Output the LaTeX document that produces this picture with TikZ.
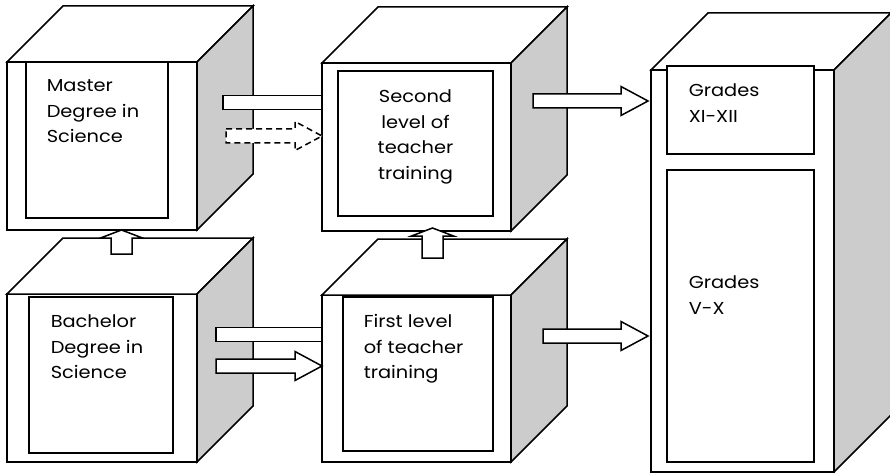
\documentclass[tikz,border=0pt]{standalone}
\usepackage{fontspec}
\setmainfont{Poppins}[FakeStretch=1.12]
\usetikzlibrary{calc,positioning}
\definecolor{sidegray}{rgb}{0.8,0.8,0.8}
\tikzset{
  front/.style={draw,fill=white,inner sep=0pt,outer sep=0pt,anchor=north west},
  inbox/.style={draw,fill=white,inner sep=0pt,outer sep=0pt,anchor=north west},
  txt/.style={inner sep=0pt,align=left,font=\fontsize{17.3}{25.5}\selectfont},
  rarrow/.style={draw,fill=white,to path={let \p1=(\tikztostart),\p2=(\tikztotarget) in
    (\x1,\y1+7pt) -- (\x2-27pt,\y1+7pt) -- (\x2-27pt,\y1+14.5pt) -- (\x2,\y1)
    -- (\x2-27pt,\y1-14.5pt) -- (\x2-27pt,\y1-7pt) -- (\x1,\y1-7pt) -- cycle}},
  rbar/.style={draw,fill=white,to path={let \p1=(\tikztostart),\p2=(\tikztotarget) in
    (\x1,\y1+7pt) rectangle (\x2,\y1-7pt)}},
  uarrow/.style={draw,fill=white,to path={let \p1=(\tikztostart),\p2=(\tikztotarget) in
    (\x1-10.5pt,\y1) -- (\x1-10.5pt,\y2-8pt) -- (\x1-21pt,\y2-8pt) -- (\x1,\y2)
    -- (\x1+21pt,\y2-8pt) -- (\x1+10.5pt,\y2-8pt) -- (\x1+10.5pt,\y1) -- cycle}}
}
\begin{document}
\begin{tikzpicture}[x=1pt,y=-1pt,line width=1.5pt]
        \useasboundingbox (0,0) rectangle (890,473);
        % Master Degree
        \node[front,minimum width=190pt,minimum height=168pt] (ms) at (7,62) {};
        \filldraw[fill=white] (ms.north west) -- ++(56,-56) -- ++(190,0) -- (ms.north east) -- cycle;
        \filldraw[fill=sidegray] (ms.north east) -- ++(56,-56) -- ($(ms.south east)+(56,-56)$) -- (ms.south east) -- cycle;
        \node[inbox,minimum width=142pt,minimum height=156pt] (msbox) at (26,62) {};
        \node[txt,below right=17pt and 20pt of msbox.north west] (mstxt) {Master\\Degree in\\Science};
        % Bachelor Degree
        \node[front,minimum width=190pt,minimum height=168pt] (bs) at (7,294) {};
        \filldraw[fill=white] (bs.north west) -- ++(56,-56) -- ++(190,0) -- (bs.north east) -- cycle;
        \filldraw[fill=sidegray] (bs.north east) -- ++(56,-56) -- ($(bs.south east)+(56,-56)$) -- (bs.south east) -- cycle;
        \node[inbox,minimum width=144pt,minimum height=156pt] (bsbox) at (29,297) {};
        \node[txt,below right=17pt and 21pt of bsbox.north west] (bstxt) {Bachelor\\Degree in\\Science};
        % Second level
        \node[front,minimum width=189pt,minimum height=168pt] (sl) at (322,63) {};
        \filldraw[fill=white] (sl.north west) -- ++(56,-56) -- ++(189,0) -- (sl.north east) -- cycle;
        \filldraw[fill=sidegray] (sl.north east) -- ++(56,-56) -- ($(sl.south east)+(56,-56)$) -- (sl.south east) -- cycle;
        \node[inbox,minimum width=155pt,minimum height=145pt] (slbox) at (338,71) {};
        \node[txt,align=center,below=18pt of slbox.north] (sltxt) {Second\\level of\\teacher\\training};
        % First level
        \node[front,minimum width=189pt,minimum height=167pt] (fl) at (322,295) {};
        \filldraw[fill=white] (fl.north west) -- ++(56,-56) -- ++(189,0) -- (fl.north east) -- cycle;
        \filldraw[fill=sidegray] (fl.north east) -- ++(56,-56) -- ($(fl.south east)+(56,-56)$) -- (fl.south east) -- cycle;
        \node[inbox,minimum width=150pt,minimum height=154pt] (flbox) at (343,297) {};
        \node[txt,below right=17pt and 20pt of flbox.north west] (fltxt) {First level\\of teacher\\training};
        % Grades
        \node[front,minimum width=183pt,minimum height=402pt] (gr) at (651,70) {};
        \filldraw[fill=white] (gr.north west) -- ++(57,-57) -- ++(183,0) -- (gr.north east) -- cycle;
        \filldraw[fill=sidegray] (gr.north east) -- ++(57,-57) -- ($(gr.south east)+(57,-57)$) -- (gr.south east) -- cycle;
        \node[inbox,minimum width=147pt,minimum height=88pt] (gxbox) at (667,66) {};
        \node[txt,below right=17pt and 21pt of gxbox.north west] (gxtxt) {Grades\\XI-XII};
        \node[inbox,minimum width=147pt,minimum height=292pt] (gvbox) at (667,170) {};
        \node[txt,below right=105pt and 21pt of gvbox.north west] (gvtxt) {Grades\\V-X};
        % Arrows
        \draw[rbar] ($(ms.north east)+(26,40.5)$) to (sl.west);
        \draw[rarrow,dash pattern=on 6pt off 4pt] ($(ms.north east)+(29,74)$) to (sl.west);
        \draw[rbar] ($(bs.north east)+(19,40.5)$) to (fl.west);
        \draw[rarrow] ($(bs.north east)+(19,72)$) to (fl.west);
        \draw[rarrow] ($(sl.north east)+(22,38)$) to ($(gr.west)+(-3,0)$);
        \draw[rarrow] ($(fl.north east)+(32,41)$) to ($(gr.west)+(-3,0)$);
        \draw[uarrow] ($(bs.north)+(19.5,-40)$) to (ms.south);
        \draw[uarrow] ($(fl.north)+(16,-37)$) to ($(sl.south)+(0,-3)$);
\end{tikzpicture}
\end{document}
